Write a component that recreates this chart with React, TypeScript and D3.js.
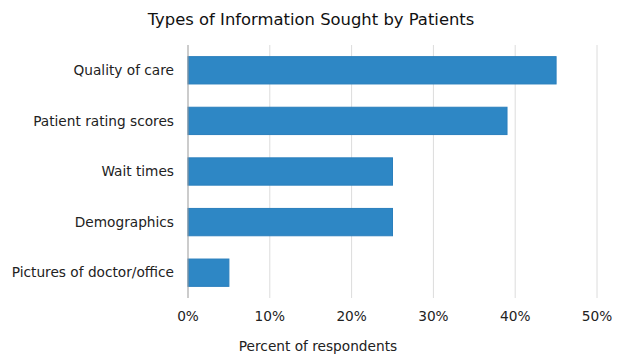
import React from "react";
import * as d3 from "d3";

const categories = [
  "Quality of care",
  "Patient rating scores",
  "Wait times",
  "Demographics",
  "Pictures of doctor/office",
];
const values = [45, 39, 25, 25, 5];
const xTicks = [0, 10, 20, 30, 40, 50];
const title = "Types of Information Sought by Patients";
const xAxisTitle = "Percent of respondents";

export default function App() {
  const W = 640;
  const H = 357;
  const left = 188;
  const right = 597;
  const top = 45;
  const bottom = 298;
  const font = "Verdana, 'DejaVu Sans', sans-serif";
  const fs = 13.7;

  const x = d3.scaleLinear().domain([0, 50]).range([left, right]);
  const y = d3
    .scaleBand<string>()
    .domain(categories)
    .range([top, bottom])
    .paddingInner(0.46)
    .paddingOuter(0.23);

  return (
    <svg
      width={W}
      height={H}
      style={{ position: "absolute", left: 0, top: 0, background: "#fff" }}
      fontFamily={font}
    >
      <text x={311} y={25} textAnchor="middle" fontSize={16.4} fill="#111">
        {title}
      </text>
      {xTicks.map((t) => (
        <g key={t}>
          {t !== 0 && (
            <line
              x1={x(t)}
              x2={x(t)}
              y1={top}
              y2={bottom}
              stroke="#dcdcdc"
              strokeWidth={1}
            />
          )}
          <text
            x={x(t)}
            y={321}
            textAnchor="middle"
            fontSize={fs}
            fill="#222"
          >
            {t}%
          </text>
        </g>
      ))}
      {categories.map((c, i) => (
        <g key={c}>
          <rect
            x={x(0)}
            y={y(c)!}
            width={x(values[i]) - x(0)}
            height={y.bandwidth()}
            fill="#2e87c5"
            stroke="#2a7fbd"
            strokeWidth={1}
          />
          <text
            x={left - 14}
            y={y(c)! + y.bandwidth() / 2}
            dy="0.35em"
            textAnchor="end"
            fontSize={fs}
            fill="#222"
          >
            {c}
          </text>
        </g>
      ))}
      <line
        x1={x(0)}
        x2={x(0)}
        y1={top}
        y2={bottom}
        stroke="#999"
        strokeWidth={1}
      />
      <text x={318} y={351} textAnchor="middle" fontSize={fs} fill="#222">
        {xAxisTitle}
      </text>
    </svg>
  );
}
